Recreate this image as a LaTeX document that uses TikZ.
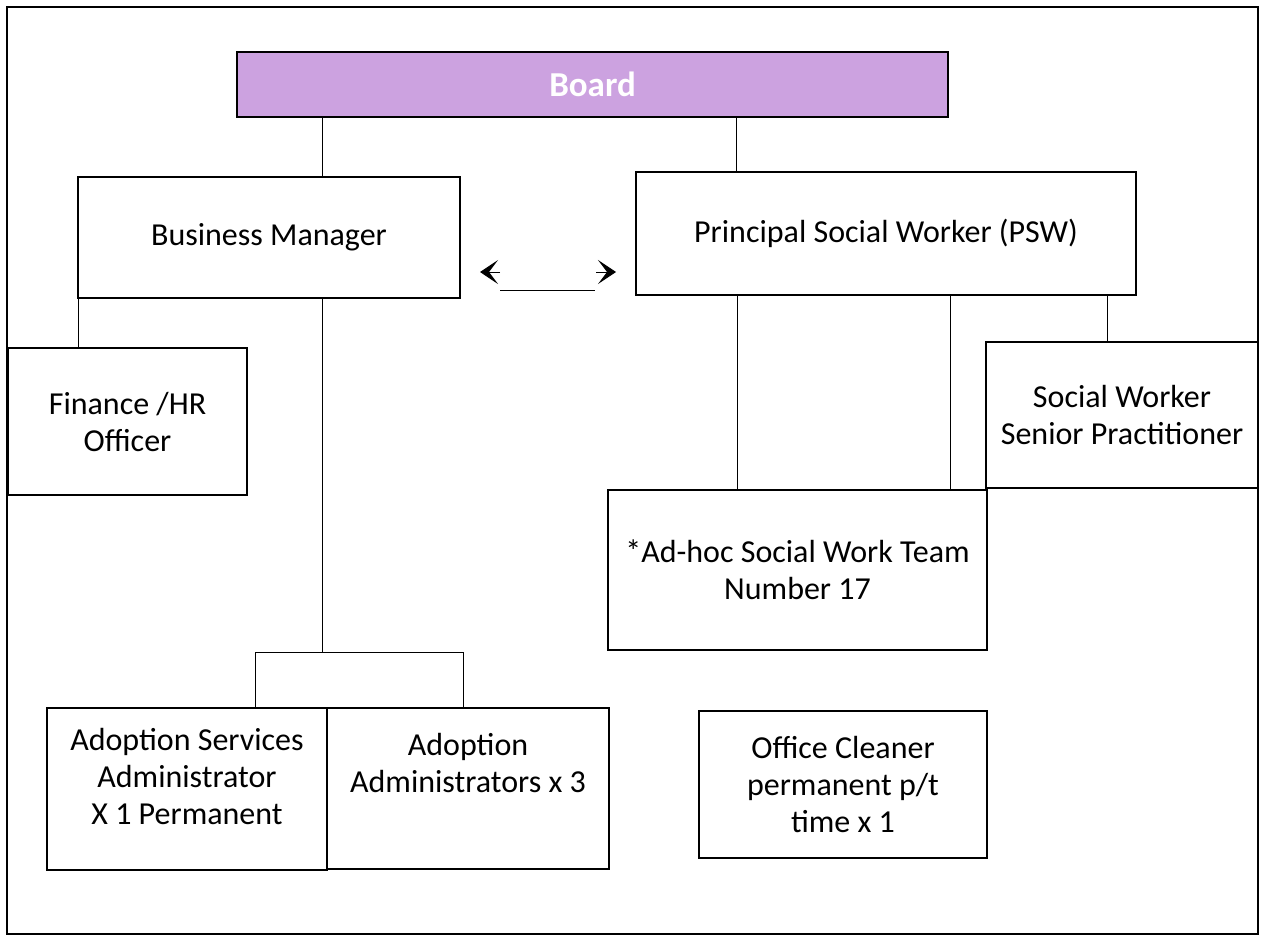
\documentclass[tikz,border=0pt]{standalone}
\usepackage{fontspec}
\setmainfont{Carlito}
\usepackage{tikz}
\usetikzlibrary{arrows.meta}
\definecolor{boardpurple}{RGB}{204,162,224}

\begin{document}
\begin{tikzpicture}[x=0.5pt, y=-0.5pt,
    every node/.style = {font=\fontsize{16}{18.5}\selectfont},
    box/.style = {draw, line width=0.8pt, rectangle, inner sep=0pt, align=center},
    link/.style = {draw, line width=0.5pt}]
    \useasboundingbox (0,0) rectangle (1261,937);
    \draw[line width=0.8pt] (7,7) rectangle (1258,934);

    \node[box, fill=boardpurple, minimum width=355.5pt, minimum height=32.5pt,
          text=white, font=\fontsize{17.5}{20}\selectfont\bfseries] (Board) at (592.5,84.5) {Board};

    \node[box, minimum width=191pt, minimum height=60.5pt] (BM) at (269,237.5) {Business Manager};
    \node[box, minimum width=250pt, minimum height=61.5pt] (PSW) at (886,233.5) {Principal Social Worker (PSW)};

    \node[box, minimum width=119.5pt, minimum height=73.5pt] (FinHR) at (127.5,421.5) {Finance /HR\\Officer};
    \node[box, minimum width=136pt, minimum height=73pt] (SWSP) at (1122,415) {Social Worker\\Senior Practitioner};
    \node[box, minimum width=189.5pt, minimum height=80pt] (AdHoc) at (797.5,570) {*Ad-hoc Social Work Team\\Number 17};

    \node[box, minimum width=140pt, minimum height=81pt] (ASA) at (187,789) {Adoption Services\\Administrator\\X 1 Permanent\\[-5.5pt]};
    \node[box, minimum width=141pt, minimum height=80.5pt] (AdAdm) at (468,788.5) {Adoption\\Administrators x 3\\[7.5pt]};
    \node[box, minimum width=144pt, minimum height=73.5pt] (Cleaner) at (843,784.5) {Office Cleaner\\permanent p/t\\time x 1};

    % board to the two managers
    \path[link] (Board.south -| 322,0) -- (BM.north -| 322,0);
    \path[link] (Board.south -| 736,0) -- (PSW.north -| 736,0);

    % business manager side
    \path[link] (BM.south -| 78,0) -- (FinHR.north -| 78,0);
    \coordinate (split) at (322,652);
    \path[link] (BM.south -| split) -- (split);
    \path[link] (ASA.north -| 255,0) |- (split) -| (AdAdm.north -| 463,0);

    % PSW side
    \path[link] (PSW.south -| 737,0) -- (AdHoc.north -| 737,0);
    \path[link] (PSW.south -| 950,0) -- (AdHoc.north -| 950,0);
    \path[link] (PSW.south -| 1107,0) -- (SWSP.north -| 1107,0);

    % two-way link between the managers
    \coordinate (la) at (500,290);
    \coordinate (ra) at (595,290);
    \path[link] (la) -- (ra);
    \draw[line width=0.5pt, -{Stealth[length=9pt, width=12pt, inset=4.5pt]}] (500,272) -- (480,272);
    \draw[line width=0.5pt, -{Stealth[length=9pt, width=12pt, inset=4.5pt]}] (596,272) -- (616,272);
\end{tikzpicture}
\end{document}
